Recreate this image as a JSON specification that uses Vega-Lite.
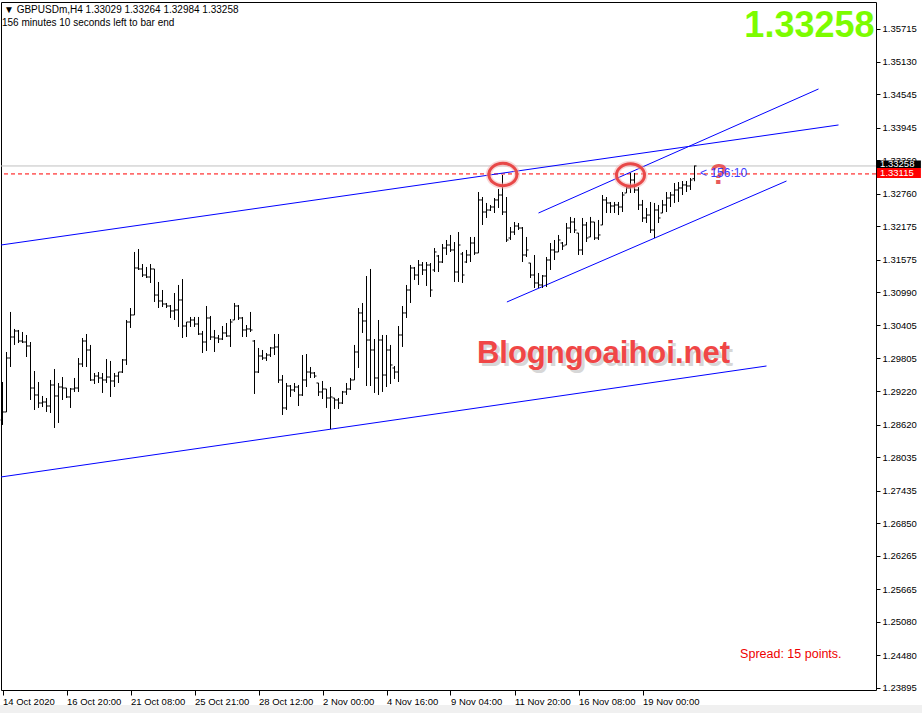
{
"$schema": "https://vega.github.io/schema/vega-lite/v6.json",
"width": 875, "height": 688,
"autosize": {"type": "none"},
"padding": {"left": 1, "top": 2, "right": 46, "bottom": 23},
"background": "white",
"config": {"font": "Liberation Sans", "view": {"stroke": "black", "strokeWidth": 1}},
"resolve": {"axis": {"x": "independent", "y": "independent"}},
"datasets": {
"bars": [
{"i":0,"o":1.28701,"h":1.29383,"l":1.28612,"c":1.28845},
{"i":1,"o":1.28845,"h":1.29921,"l":1.28845,"c":1.29813},
{"i":2,"o":1.29813,"h":1.30639,"l":1.29652,"c":1.30190},
{"i":3,"o":1.30190,"h":1.30334,"l":1.30047,"c":1.30298},
{"i":4,"o":1.30298,"h":1.30316,"l":1.30082,"c":1.30118},
{"i":5,"o":1.30118,"h":1.30280,"l":1.30082,"c":1.30100},
{"i":6,"o":1.30100,"h":1.30226,"l":1.29831,"c":1.30029},
{"i":7,"o":1.30029,"h":1.30100,"l":1.29060,"c":1.29275},
{"i":8,"o":1.29275,"h":1.29580,"l":1.28881,"c":1.29150},
{"i":9,"o":1.29150,"h":1.29383,"l":1.28917,"c":1.29006},
{"i":10,"o":1.29006,"h":1.29132,"l":1.28934,"c":1.29024},
{"i":11,"o":1.29024,"h":1.29096,"l":1.28845,"c":1.28952},
{"i":12,"o":1.28952,"h":1.29419,"l":1.28827,"c":1.29329},
{"i":13,"o":1.29329,"h":1.29616,"l":1.28558,"c":1.29132},
{"i":14,"o":1.29132,"h":1.29365,"l":1.28648,"c":1.29293},
{"i":15,"o":1.29293,"h":1.29472,"l":1.29060,"c":1.29275},
{"i":16,"o":1.29275,"h":1.29275,"l":1.29096,"c":1.29114},
{"i":17,"o":1.29114,"h":1.29275,"l":1.28917,"c":1.29257},
{"i":18,"o":1.29257,"h":1.29455,"l":1.29204,"c":1.29275},
{"i":19,"o":1.29275,"h":1.29813,"l":1.29204,"c":1.29706},
{"i":20,"o":1.29706,"h":1.30172,"l":1.29652,"c":1.30118},
{"i":21,"o":1.30118,"h":1.30244,"l":1.29652,"c":1.29957},
{"i":22,"o":1.29957,"h":1.30047,"l":1.29401,"c":1.29419},
{"i":23,"o":1.29419,"h":1.29544,"l":1.29347,"c":1.29490},
{"i":24,"o":1.29490,"h":1.29562,"l":1.29365,"c":1.29455},
{"i":25,"o":1.29455,"h":1.29544,"l":1.29186,"c":1.29419},
{"i":26,"o":1.29419,"h":1.29795,"l":1.29365,"c":1.29472},
{"i":27,"o":1.29472,"h":1.29760,"l":1.29114,"c":1.29401},
{"i":28,"o":1.29401,"h":1.29544,"l":1.29293,"c":1.29490},
{"i":29,"o":1.29490,"h":1.29562,"l":1.29365,"c":1.29562},
{"i":30,"o":1.29562,"h":1.29795,"l":1.29544,"c":1.29778},
{"i":31,"o":1.29778,"h":1.30495,"l":1.29688,"c":1.30459},
{"i":32,"o":1.30459,"h":1.30710,"l":1.30352,"c":1.30585},
{"i":33,"o":1.30585,"h":1.31715,"l":1.30585,"c":1.31428},
{"i":34,"o":1.31428,"h":1.31768,"l":1.31392,"c":1.31410},
{"i":35,"o":1.31410,"h":1.31499,"l":1.31266,"c":1.31302},
{"i":36,"o":1.31302,"h":1.31446,"l":1.31248,"c":1.31266},
{"i":37,"o":1.31266,"h":1.31499,"l":1.31159,"c":1.31410},
{"i":38,"o":1.31410,"h":1.31410,"l":1.30818,"c":1.30943},
{"i":39,"o":1.30943,"h":1.31177,"l":1.30710,"c":1.30836},
{"i":40,"o":1.30836,"h":1.31033,"l":1.30728,"c":1.30782},
{"i":41,"o":1.30782,"h":1.30800,"l":1.30710,"c":1.30746},
{"i":42,"o":1.30746,"h":1.30764,"l":1.30531,"c":1.30657},
{"i":43,"o":1.30657,"h":1.30979,"l":1.30495,"c":1.30675},
{"i":44,"o":1.30675,"h":1.31123,"l":1.30370,"c":1.30854},
{"i":45,"o":1.30854,"h":1.31230,"l":1.30172,"c":1.30387},
{"i":46,"o":1.30387,"h":1.30459,"l":1.30190,"c":1.30459},
{"i":47,"o":1.30459,"h":1.30549,"l":1.30370,"c":1.30495},
{"i":48,"o":1.30495,"h":1.30549,"l":1.30370,"c":1.30423},
{"i":49,"o":1.30423,"h":1.30549,"l":1.30226,"c":1.30244},
{"i":50,"o":1.30244,"h":1.30298,"l":1.29903,"c":1.30100},
{"i":51,"o":1.30100,"h":1.30746,"l":1.29939,"c":1.30531},
{"i":52,"o":1.30531,"h":1.30567,"l":1.30136,"c":1.30190},
{"i":53,"o":1.30190,"h":1.30316,"l":1.29921,"c":1.30172},
{"i":54,"o":1.30172,"h":1.30226,"l":1.30082,"c":1.30154},
{"i":55,"o":1.30154,"h":1.30387,"l":1.30136,"c":1.30262},
{"i":56,"o":1.30262,"h":1.30441,"l":1.30190,"c":1.30208},
{"i":57,"o":1.30208,"h":1.30513,"l":1.30011,"c":1.30459},
{"i":58,"o":1.30495,"h":1.30800,"l":1.30495,"c":1.30746},
{"i":59,"o":1.30746,"h":1.30764,"l":1.30495,"c":1.30531},
{"i":60,"o":1.30531,"h":1.30549,"l":1.30190,"c":1.30316},
{"i":61,"o":1.30316,"h":1.30405,"l":1.30190,"c":1.30334},
{"i":62,"o":1.30334,"h":1.30639,"l":1.30280,"c":1.30316},
{"i":63,"o":1.30118,"h":1.30136,"l":1.29168,"c":1.29562},
{"i":64,"o":1.29562,"h":1.29993,"l":1.29544,"c":1.29849},
{"i":65,"o":1.29849,"h":1.29957,"l":1.29778,"c":1.29813},
{"i":66,"o":1.29813,"h":1.29903,"l":1.29760,"c":1.29867},
{"i":67,"o":1.29867,"h":1.30011,"l":1.29831,"c":1.29993},
{"i":68,"o":1.29993,"h":1.30244,"l":1.29867,"c":1.30011},
{"i":69,"o":1.30011,"h":1.30244,"l":1.29365,"c":1.29419},
{"i":70,"o":1.29419,"h":1.29508,"l":1.28791,"c":1.28917},
{"i":71,"o":1.28917,"h":1.29365,"l":1.28881,"c":1.29311},
{"i":72,"o":1.29311,"h":1.29329,"l":1.29114,"c":1.29240},
{"i":73,"o":1.29240,"h":1.29365,"l":1.29204,"c":1.29293},
{"i":74,"o":1.29293,"h":1.29329,"l":1.28952,"c":1.29150},
{"i":75,"o":1.29150,"h":1.29867,"l":1.29132,"c":1.29419},
{"i":76,"o":1.29419,"h":1.29885,"l":1.29293,"c":1.29562},
{"i":77,"o":1.29562,"h":1.29652,"l":1.29455,"c":1.29544},
{"i":78,"o":1.29544,"h":1.29562,"l":1.29455,"c":1.29490},
{"i":79,"o":1.29365,"h":1.29365,"l":1.29132,"c":1.29204},
{"i":80,"o":1.29204,"h":1.29401,"l":1.29078,"c":1.29257},
{"i":81,"o":1.29257,"h":1.29257,"l":1.28917,"c":1.29096},
{"i":82,"o":1.29096,"h":1.29293,"l":1.28540,"c":1.29114},
{"i":83,"o":1.29096,"h":1.29096,"l":1.28899,"c":1.29060},
{"i":84,"o":1.29060,"h":1.29096,"l":1.28899,"c":1.29006},
{"i":85,"o":1.29006,"h":1.29222,"l":1.28988,"c":1.29204},
{"i":86,"o":1.29204,"h":1.29365,"l":1.29150,"c":1.29257},
{"i":87,"o":1.29257,"h":1.29455,"l":1.29240,"c":1.29419},
{"i":88,"o":1.29419,"h":1.30047,"l":1.29419,"c":1.29921},
{"i":89,"o":1.29921,"h":1.30710,"l":1.29634,"c":1.30621},
{"i":90,"o":1.30621,"h":1.30800,"l":1.30262,"c":1.30477},
{"i":91,"o":1.30477,"h":1.31284,"l":1.29311,"c":1.30136},
{"i":92,"o":1.30136,"h":1.31410,"l":1.29311,"c":1.29957},
{"i":93,"o":1.29957,"h":1.30154,"l":1.29186,"c":1.29455},
{"i":94,"o":1.29455,"h":1.30495,"l":1.29150,"c":1.30136},
{"i":95,"o":1.30136,"h":1.30226,"l":1.29204,"c":1.29508},
{"i":96,"o":1.29508,"h":1.30226,"l":1.29293,"c":1.29957},
{"i":97,"o":1.29957,"h":1.30047,"l":1.29347,"c":1.29688},
{"i":98,"o":1.29634,"h":1.29670,"l":1.29437,"c":1.29562},
{"i":99,"o":1.29562,"h":1.30387,"l":1.29383,"c":1.30226},
{"i":100,"o":1.30226,"h":1.30746,"l":1.30011,"c":1.30621},
{"i":101,"o":1.30621,"h":1.31123,"l":1.30531,"c":1.31033},
{"i":102,"o":1.31033,"h":1.31481,"l":1.30800,"c":1.31428},
{"i":103,"o":1.31428,"h":1.31446,"l":1.31213,"c":1.31302},
{"i":104,"o":1.31302,"h":1.31571,"l":1.31123,"c":1.31481},
{"i":105,"o":1.31481,"h":1.31535,"l":1.31302,"c":1.31392},
{"i":106,"o":1.31392,"h":1.31535,"l":1.31105,"c":1.31481},
{"i":107,"o":1.31481,"h":1.31517,"l":1.30908,"c":1.31033},
{"i":108,"o":1.31392,"h":1.31786,"l":1.31356,"c":1.31715},
{"i":109,"o":1.31643,"h":1.31661,"l":1.31356,"c":1.31535},
{"i":110,"o":1.31535,"h":1.31858,"l":1.31517,"c":1.31786},
{"i":111,"o":1.31786,"h":1.31930,"l":1.31661,"c":1.31840},
{"i":112,"o":1.31840,"h":1.32020,"l":1.31715,"c":1.31751},
{"i":113,"o":1.31751,"h":1.31894,"l":1.31177,"c":1.31356},
{"i":114,"o":1.31356,"h":1.32073,"l":1.31177,"c":1.31840},
{"i":115,"o":1.31679,"h":1.31715,"l":1.31159,"c":1.31302},
{"i":116,"o":1.31535,"h":1.31751,"l":1.31517,"c":1.31661},
{"i":117,"o":1.31661,"h":1.31984,"l":1.31535,"c":1.31876},
{"i":118,"o":1.31876,"h":1.31984,"l":1.31661,"c":1.31697},
{"i":119,"o":1.31697,"h":1.32791,"l":1.31697,"c":1.32648},
{"i":120,"o":1.32648,"h":1.32701,"l":1.32199,"c":1.32432},
{"i":121,"o":1.32432,"h":1.32594,"l":1.32325,"c":1.32468},
{"i":122,"o":1.32468,"h":1.32558,"l":1.32450,"c":1.32522},
{"i":123,"o":1.32522,"h":1.32683,"l":1.32414,"c":1.32648},
{"i":124,"o":1.32648,"h":1.32845,"l":1.32504,"c":1.32737},
{"i":125,"o":1.32737,"h":1.33096,"l":1.32378,"c":1.32432},
{"i":126,"o":1.32432,"h":1.32701,"l":1.31894,"c":1.31930},
{"i":127,"o":1.31966,"h":1.32163,"l":1.31930,"c":1.32073},
{"i":128,"o":1.32073,"h":1.32253,"l":1.32020,"c":1.32181},
{"i":129,"o":1.32181,"h":1.32235,"l":1.32109,"c":1.32145},
{"i":130,"o":1.32145,"h":1.32163,"l":1.31535,"c":1.31661},
{"i":131,"o":1.31661,"h":1.31984,"l":1.31625,"c":1.31751},
{"i":132,"o":1.31517,"h":1.31517,"l":1.31248,"c":1.31302},
{"i":133,"o":1.31302,"h":1.31661,"l":1.31069,"c":1.31159},
{"i":134,"o":1.31159,"h":1.31338,"l":1.31069,"c":1.31123},
{"i":135,"o":1.31123,"h":1.31302,"l":1.31069,"c":1.31284},
{"i":136,"o":1.31284,"h":1.31625,"l":1.31087,"c":1.31571},
{"i":137,"o":1.31571,"h":1.31876,"l":1.31392,"c":1.31751},
{"i":138,"o":1.31751,"h":1.31930,"l":1.31571,"c":1.31715},
{"i":139,"o":1.31715,"h":1.32020,"l":1.31715,"c":1.31930},
{"i":140,"o":1.31876,"h":1.31894,"l":1.31751,"c":1.31822},
{"i":141,"o":1.31840,"h":1.32235,"l":1.31840,"c":1.32145},
{"i":142,"o":1.32145,"h":1.32343,"l":1.32055,"c":1.32253},
{"i":143,"o":1.32253,"h":1.32325,"l":1.32055,"c":1.32109},
{"i":144,"o":1.32055,"h":1.32055,"l":1.31661,"c":1.31751},
{"i":145,"o":1.31751,"h":1.32325,"l":1.31661,"c":1.32199},
{"i":146,"o":1.32199,"h":1.32253,"l":1.31894,"c":1.31966},
{"i":147,"o":1.31984,"h":1.32343,"l":1.31984,"c":1.32253},
{"i":148,"o":1.32253,"h":1.32253,"l":1.31930,"c":1.31966},
{"i":149,"o":1.31966,"h":1.32289,"l":1.31930,"c":1.32020},
{"i":150,"o":1.32199,"h":1.32737,"l":1.32199,"c":1.32648},
{"i":151,"o":1.32648,"h":1.32701,"l":1.32414,"c":1.32594},
{"i":152,"o":1.32594,"h":1.32612,"l":1.32414,"c":1.32540},
{"i":153,"o":1.32540,"h":1.32612,"l":1.32414,"c":1.32558},
{"i":154,"o":1.32558,"h":1.32612,"l":1.32378,"c":1.32522},
{"i":155,"o":1.32522,"h":1.32791,"l":1.32432,"c":1.32737},
{"i":156,"o":1.32773,"h":1.32917,"l":1.32773,"c":1.32863},
{"i":157,"o":1.32863,"h":1.33132,"l":1.32773,"c":1.33006},
{"i":158,"o":1.33006,"h":1.33132,"l":1.32773,"c":1.32827},
{"i":159,"o":1.32827,"h":1.32881,"l":1.32468,"c":1.32558},
{"i":160,"o":1.32558,"h":1.32648,"l":1.32253,"c":1.32325},
{"i":161,"o":1.32325,"h":1.32504,"l":1.32235,"c":1.32378},
{"i":162,"o":1.32378,"h":1.32612,"l":1.32055,"c":1.32109},
{"i":163,"o":1.32109,"h":1.32594,"l":1.31966,"c":1.32468},
{"i":164,"o":1.32468,"h":1.32558,"l":1.32235,"c":1.32325},
{"i":165,"o":1.32414,"h":1.32648,"l":1.32414,"c":1.32558},
{"i":166,"o":1.32558,"h":1.32791,"l":1.32432,"c":1.32683},
{"i":167,"o":1.32683,"h":1.32791,"l":1.32522,"c":1.32737},
{"i":168,"o":1.32737,"h":1.32952,"l":1.32594,"c":1.32827},
{"i":169,"o":1.32827,"h":1.32970,"l":1.32612,"c":1.32863},
{"i":170,"o":1.32863,"h":1.32988,"l":1.32737,"c":1.32917},
{"i":171,"o":1.32917,"h":1.32988,"l":1.32791,"c":1.32899},
{"i":172,"o":1.32899,"h":1.33042,"l":1.32827,"c":1.33006},
{"i":173,"o":1.33029,"h":1.33264,"l":1.32984,"c":1.33258}
],
"trend": [
{"g":"A","i":-0.375,"p":1.31840},{"g":"A","i":209,"p":1.33993},
{"g":"B","i":-0.375,"p":1.27679},{"g":"B","i":191,"p":1.29670},
{"g":"C","i":134,"p":1.32414},{"g":"C","i":204,"p":1.34639},
{"g":"D","i":126.1,"p":1.30818},{"g":"D","i":196,"p":1.32988}
]
},
"layer": [
{"data": {"values": [{"i": -1, "i2": 231, "p": 1.23589, "p2": 1.23400}]},
 "mark": {"type": "rect", "color": "#f0f0f0"},
 "encoding": {
  "x": {"field": "i", "type": "quantitative", "scale": {"domain": [-0.375, 218.375], "nice": false, "zero": false}, "axis": null},
  "x2": {"field": "i2"},
  "y": {"field": "p", "type": "quantitative", "scale": {"domain": [1.23858, 1.36199], "nice": false, "zero": false}, "axis": null},
  "y2": {"field": "p2"}}},
{"data": {"values": [{"p": 1.33258}]}, "mark": {"type": "rule", "color": "#c0c0c0", "strokeWidth": 1},
 "encoding": {"y": {"field": "p", "type": "quantitative", "scale": {"domain": [1.23858, 1.36199], "nice": false, "zero": false}, "axis": null}}},
{"data": {"values": [{"p": 1.33115}]}, "mark": {"type": "rule", "color": "#ff0000", "strokeWidth": 1, "strokeDash": [4, 3]},
 "encoding": {"y": {"field": "p", "type": "quantitative", "scale": {"domain": [1.23858, 1.36199], "nice": false, "zero": false}, "axis": null}}},
{"data": {"name": "trend"}, "mark": {"type": "line", "color": "#0000ff", "strokeWidth": 1},
 "encoding": {
  "x": {"field": "i", "type": "quantitative", "scale": {"domain": [-0.375, 218.375], "nice": false, "zero": false}, "axis": null},
  "y": {"field": "p", "type": "quantitative", "scale": {"domain": [1.23858, 1.36199], "nice": false, "zero": false}, "axis": null},
  "detail": {"field": "g"}}},
{"data": {"name": "bars"}, "mark": {"type": "rule", "color": "black", "strokeWidth": 1},
 "encoding": {
  "x": {"field": "i", "type": "quantitative", "scale": {"domain": [-0.375, 218.375], "nice": false, "zero": false},
        "axis": {"title": null, "values": [0,16,32,48,64,80,96,112,128,144,160], "labelExpr": "['14 Oct 2020','16 Oct 20:00','21 Oct 08:00','25 Oct 21:00','28 Oct 12:00','2 Nov 00:00','4 Nov 16:00','9 Nov 04:00','11 Nov 20:00','16 Nov 08:00','19 Nov 00:00'][round(datum.value/16)]",
                 "domain": false, "grid": false, "tickColor": "black", "tickSize": 5, "labelAlign": "left", "labelBaseline": "top", "labelPadding": 1, "labelFlush": false, "labelOverlap": false, "labelFontSize": 9.5, "labelColor": "black", "labelFont": "Liberation Sans"}},
  "y": {"field": "l", "type": "quantitative", "scale": {"domain": [1.23858, 1.36199], "nice": false, "zero": false},
        "axis": {"title": null, "orient": "right", "values": [1.35715,1.35130,1.34545,1.33945,1.33360,1.32760,1.32175,1.31575,1.30990,1.30405,1.29805,1.29220,1.28620,1.28035,1.27435,1.26850,1.26265,1.25665,1.25080,1.24480,1.23895],
                 "format": ".5f", "domain": false, "grid": false, "tickColor": "black", "tickSize": 4, "labelPadding": 2, "labelFontSize": 9.5, "labelColor": "black", "labelFont": "Liberation Sans", "labelOverlap": false, "labelFlush": false}},
  "y2": {"field": "h"}}},
{"data": {"name": "bars"}, "mark": {"type": "rule", "color": "black", "strokeWidth": 1, "xOffset": -2, "x2Offset": 0},
 "encoding": {
  "x": {"field": "i", "type": "quantitative", "scale": {"domain": [-0.375, 218.375], "nice": false, "zero": false}, "axis": null},
  "x2": {"field": "i"},
  "y": {"field": "o", "type": "quantitative", "scale": {"domain": [1.23858, 1.36199], "nice": false, "zero": false}, "axis": null}}},
{"data": {"name": "bars"}, "mark": {"type": "rule", "color": "black", "strokeWidth": 1, "xOffset": 0, "x2Offset": 2},
 "encoding": {
  "x": {"field": "i", "type": "quantitative", "scale": {"domain": [-0.375, 218.375], "nice": false, "zero": false}, "axis": null},
  "x2": {"field": "i"},
  "y": {"field": "c", "type": "quantitative", "scale": {"domain": [1.23858, 1.36199], "nice": false, "zero": false}, "axis": null}}},
{"data": {"values": [{"i": 125.1, "p": 1.33105}, {"i": 157, "p": 1.33096}]},
 "mark": {"type": "point", "shape": "M-1,0A1,0.8,0,1,1,1,0A1,0.8,0,1,1,-1,0Z", "size": 800, "filled": false, "stroke": "#f4b0b0", "strokeWidth": 6, "opacity": 0.5},
 "encoding": {
  "x": {"field": "i", "type": "quantitative", "scale": {"domain": [-0.375, 218.375], "nice": false, "zero": false}, "axis": null},
  "y": {"field": "p", "type": "quantitative", "scale": {"domain": [1.23858, 1.36199], "nice": false, "zero": false}, "axis": null}}},
{"data": {"values": [{"i": 125.1, "p": 1.33105}, {"i": 157, "p": 1.33096}]},
 "mark": {"type": "point", "shape": "M-1,0A1,0.8,0,1,1,1,0A1,0.8,0,1,1,-1,0Z", "size": 784, "filled": false, "stroke": "#e84848", "strokeWidth": 3, "opacity": 1},
 "encoding": {
  "x": {"field": "i", "type": "quantitative", "scale": {"domain": [-0.375, 218.375], "nice": false, "zero": false}, "axis": null},
  "y": {"field": "p", "type": "quantitative", "scale": {"domain": [1.23858, 1.36199], "nice": false, "zero": false}, "axis": null}}},
{"data": {"values": [{"i": 0.375, "p": 1.36056, "t": "▼ GBPUSDm,H4  1.33029 1.33264 1.32984 1.33258"}, {"i": -0.125, "p": 1.35822, "t": "156 minutes 10 seconds left to bar end"}]},
 "mark": {"type": "text", "align": "left", "baseline": "middle", "fontSize": 10, "color": "black", "font": "Liberation Sans"},
 "encoding": {
  "x": {"field": "i", "type": "quantitative", "scale": {"domain": [-0.375, 218.375], "nice": false, "zero": false}, "axis": null},
  "y": {"field": "p", "type": "quantitative", "scale": {"domain": [1.23858, 1.36199], "nice": false, "zero": false}, "axis": null},
  "text": {"field": "t"}}},
{"data": {"values": [{"i": 218, "p": 1.35571, "t": "1.33258"}]},
 "mark": {"type": "text", "align": "right", "baseline": "alphabetic", "fontSize": 36, "fontWeight": "bold", "color": "#7cfc00", "font": "Liberation Sans"},
 "encoding": {
  "x": {"field": "i", "type": "quantitative", "scale": {"domain": [-0.375, 218.375], "nice": false, "zero": false}, "axis": null},
  "y": {"field": "p", "type": "quantitative", "scale": {"domain": [1.23858, 1.36199], "nice": false, "zero": false}, "axis": null},
  "text": {"field": "t"}}},
{"data": {"values": [{"i": 118.6, "p": 1.29724, "t": "Blogngoaihoi.net"}]},
 "mark": {"type": "text", "align": "left", "baseline": "alphabetic", "fontSize": 31, "fontWeight": "bold", "color": "#b0b0b0", "opacity": 0.5, "dx": 3, "dy": 3, "font": "Liberation Sans"},
 "encoding": {
  "x": {"field": "i", "type": "quantitative", "scale": {"domain": [-0.375, 218.375], "nice": false, "zero": false}, "axis": null},
  "y": {"field": "p", "type": "quantitative", "scale": {"domain": [1.23858, 1.36199], "nice": false, "zero": false}, "axis": null},
  "text": {"field": "t"}}},
{"data": {"values": [{"i": 118.6, "p": 1.29724, "t": "Blogngoaihoi.net"}]},
 "mark": {"type": "text", "align": "left", "baseline": "alphabetic", "fontSize": 31, "fontWeight": "bold", "color": "#f04646", "font": "Liberation Sans"},
 "encoding": {
  "x": {"field": "i", "type": "quantitative", "scale": {"domain": [-0.375, 218.375], "nice": false, "zero": false}, "axis": null},
  "y": {"field": "p", "type": "quantitative", "scale": {"domain": [1.23858, 1.36199], "nice": false, "zero": false}, "axis": null},
  "text": {"field": "t"}}},
{"data": {"values": [{"i": 179.1, "p": 1.32935, "t": "?"}]},
 "mark": {"type": "text", "align": "center", "baseline": "alphabetic", "fontSize": 30, "fontWeight": "bold", "color": "#e85a5a", "font": "Liberation Sans"},
 "encoding": {
  "x": {"field": "i", "type": "quantitative", "scale": {"domain": [-0.375, 218.375], "nice": false, "zero": false}, "axis": null},
  "y": {"field": "p", "type": "quantitative", "scale": {"domain": [1.23858, 1.36199], "nice": false, "zero": false}, "axis": null},
  "text": {"field": "t"}}},
{"data": {"values": [{"i": 174.4, "p": 1.33132, "t": "< 156:10"}]},
 "mark": {"type": "text", "align": "left", "baseline": "middle", "fontSize": 12, "color": "#3c3cff", "font": "Liberation Sans"},
 "encoding": {
  "x": {"field": "i", "type": "quantitative", "scale": {"domain": [-0.375, 218.375], "nice": false, "zero": false}, "axis": null},
  "y": {"field": "p", "type": "quantitative", "scale": {"domain": [1.23858, 1.36199], "nice": false, "zero": false}, "axis": null},
  "text": {"field": "t"}}},
{"data": {"values": [{"i": 184.4, "p": 1.24504, "t": "Spread: 15 points."}]},
 "mark": {"type": "text", "align": "left", "baseline": "middle", "fontSize": 12.5, "color": "#ee0000", "font": "Liberation Sans"},
 "encoding": {
  "x": {"field": "i", "type": "quantitative", "scale": {"domain": [-0.375, 218.375], "nice": false, "zero": false}, "axis": null},
  "y": {"field": "p", "type": "quantitative", "scale": {"domain": [1.23858, 1.36199], "nice": false, "zero": false}, "axis": null},
  "text": {"field": "t"}}},
{"data": {"values": [{"i": 218.6, "i2": 229.6, "p": 1.33356, "p2": 1.33221}]},
 "mark": {"type": "rect", "color": "black"},
 "encoding": {
  "x": {"field": "i", "type": "quantitative", "scale": {"domain": [-0.375, 218.375], "nice": false, "zero": false}, "axis": null},
  "x2": {"field": "i2"},
  "y": {"field": "p", "type": "quantitative", "scale": {"domain": [1.23858, 1.36199], "nice": false, "zero": false}, "axis": null},
  "y2": {"field": "p2"}}},
{"data": {"values": [{"i": 218.6, "i2": 229.6, "p": 1.33221, "p2": 1.33042}]},
 "mark": {"type": "rect", "color": "#ff0000"},
 "encoding": {
  "x": {"field": "i", "type": "quantitative", "scale": {"domain": [-0.375, 218.375], "nice": false, "zero": false}, "axis": null},
  "x2": {"field": "i2"},
  "y": {"field": "p", "type": "quantitative", "scale": {"domain": [1.23858, 1.36199], "nice": false, "zero": false}, "axis": null},
  "y2": {"field": "p2"}}},
{"data": {"values": [{"i": 219.4, "p": 1.33288, "t": "1.33258"}, {"i": 219.4, "p": 1.33135, "t": "1.33115"}]},
 "mark": {"type": "text", "align": "left", "baseline": "middle", "fontSize": 9.5, "color": "white", "font": "Liberation Sans"},
 "encoding": {
  "x": {"field": "i", "type": "quantitative", "scale": {"domain": [-0.375, 218.375], "nice": false, "zero": false}, "axis": null},
  "y": {"field": "p", "type": "quantitative", "scale": {"domain": [1.23858, 1.36199], "nice": false, "zero": false}, "axis": null},
  "text": {"field": "t"}}}
]
}
